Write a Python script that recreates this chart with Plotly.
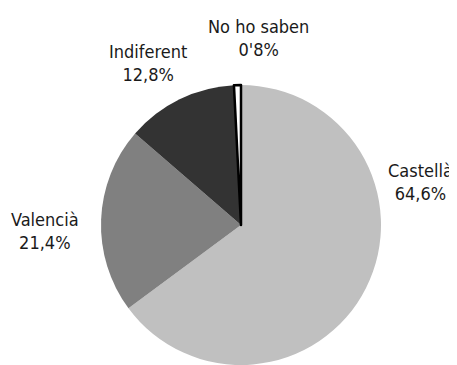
import plotly.graph_objects as go

categories = ["Castellà", "Valencià", "Indiferent", "No ho saben"]
values = [64.6, 21.4, 12.8, 0.8]
value_labels = ["64,6%", "21,4%", "12,8%", "0'8%"]
colors = ["#c0c0c0", "#808080", "#333333", "#ffffff"]

# page body has an 8px margin, so the figure is drawn 8px smaller and offset
OFF = 8
W, H = 457 - OFF, 365 - OFF
cx, cy, r = 241 - OFF, 226 - OFF, 141

fig = go.Figure(go.Pie(
    labels=categories,
    values=values,
    sort=False,
    direction="clockwise",
    rotation=0,
    textinfo="none",
    hoverinfo="label+percent",
    marker=dict(colors=colors,
                line=dict(color=["rgba(0,0,0,0)"] * 3 + ["#000000"], width=[0, 0, 0, 2.5])),
    domain=dict(x=[(cx - r) / W, (cx + r) / W], y=[max(0, (H - cy - r) / H), (H - cy + r) / H]),
    showlegend=False,
))

label_pos = {
    "Castellà": (420, 182),
    "Valencià": (45, 231),
    "Indiferent": (148, 63),
    "No ho saben": (258, 38),
}
font_family = "DejaVu Sans Condensed, Liberation Sans Narrow, sans-serif"
for cat, lab in zip(categories, value_labels):
    x, y = label_pos[cat]
    fig.add_annotation(
        x=(x - OFF) / W, y=1 - (y - OFF) / H, xref="paper", yref="paper",
        text=f"{cat}<br>{lab}", showarrow=False,
        xanchor="center", yanchor="middle",
        font=dict(family=font_family, size=18, color="#1a1a1a"),
    )

fig.update_layout(
    width=W, height=H,
    margin=dict(l=0, r=0, t=0, b=0),
    paper_bgcolor="white", plot_bgcolor="white",
)
fig.write_html("out.html")
